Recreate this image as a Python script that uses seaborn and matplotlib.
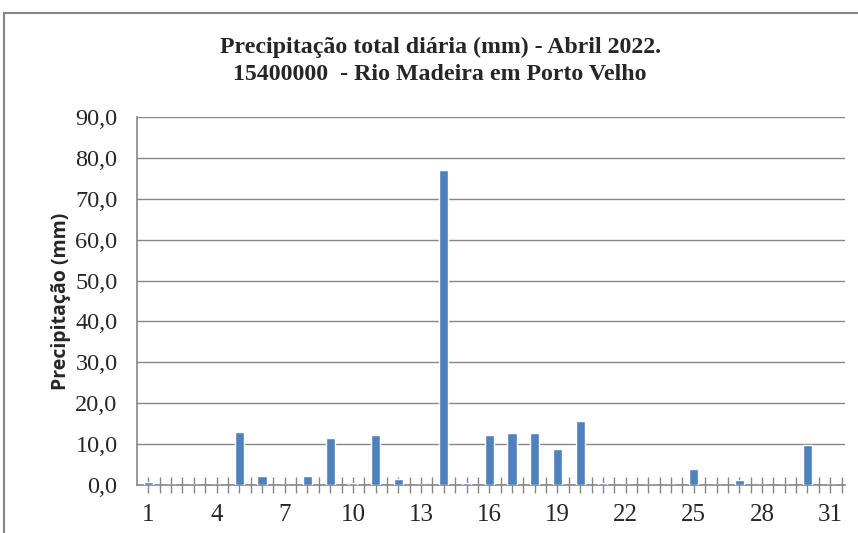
"""
Precipitação total diária - Abril 2022, estação 15400000 (Rio Madeira em Porto Velho).
"""
import numpy as np
import pandas as pd
import matplotlib
matplotlib.use("Agg")
import matplotlib.pyplot as plt
from matplotlib.patches import Rectangle
import seaborn as sns

DAYS = list(range(1, 32))
PRECIP_MM = [0.8, 0.0, 0.0, 0.0, 13.0, 2.3, 0.0, 2.1, 11.6, 0.5,
             12.2, 1.5, 0.0, 77.0, 0.5, 12.3, 12.6, 12.6, 8.9, 15.6,
             0.5, 0.0, 0.0, 0.0, 3.9, 0.0, 1.2, 0.0, 0.0, 9.8,
             0.0]
X_LABEL_DAYS = [1, 4, 7, 10, 13, 16, 19, 22, 25, 28, 31]
Y_TICKS = [0, 10, 20, 30, 40, 50, 60, 70, 80, 90]

TITLE_1 = "Precipitação total diária (mm) - Abril 2022."
TITLE_2 = "15400000  - Rio Madeira em Porto Velho"
Y_LABEL = "Precipitação (mm)"

BAR_COLOR = "#4F81BD"
AXIS_GRAY = "#868686"


def plot():
    sns.set_theme(style="white")
    df = pd.DataFrame({"dia": DAYS, "precip": PRECIP_MM})

    fig = plt.figure(figsize=(8.58, 5.33), dpi=100)
    ax = fig.add_axes([137 / 858, 1 - 485 / 533, (845 - 137) / 858, (485 - 117) / 533])

    sns.barplot(data=df, x="dia", y="precip", color=BAR_COLOR, width=0.4,
                saturation=1, ax=ax, zorder=3)

    ax.set_xlim(-0.5, 30.65)
    ax.set_ylim(0, 90)

    ax.set_yticks(Y_TICKS)
    ax.set_yticklabels([f"{v:.1f}".replace(".", ",") for v in Y_TICKS],
                       family="Liberation Serif", fontsize=17.5)
    ax.yaxis.grid(True, color=AXIS_GRAY, linewidth=1.0, zorder=0)
    ax.set_axisbelow(True)

    # ticks every half day, labels every third day
    pos = np.arange(0, 31, 0.5)
    labels = []
    for p in pos:
        d = p + 1
        labels.append(str(int(d)) if d == int(d) and int(d) in X_LABEL_DAYS else "")
    ax.set_xticks(pos)
    ax.set_xticklabels(labels, family="Liberation Serif", fontsize=18)

    ax.tick_params(axis="x", direction="inout", length=11, width=1.0,
                   color=AXIS_GRAY, pad=8, bottom=True)
    ax.tick_params(axis="y", length=0, pad=14, left=False)

    for side in ["top", "right"]:
        ax.spines[side].set_visible(False)
    for side in ["left", "bottom"]:
        ax.spines[side].set_color(AXIS_GRAY)
        ax.spines[side].set_linewidth(1.2)

    ax.set_xlabel("")
    ax.set_ylabel(Y_LABEL, family="Open Sans", fontweight="bold", fontsize=14,
                  labelpad=3)

    fig.text(0.513, 1 - 47 / 533, TITLE_1, ha="center", va="center",
             family="Liberation Serif", fontweight="bold", fontsize=17.2)
    fig.text(0.513, 1 - 75 / 533, TITLE_2, ha="center", va="center",
             family="Liberation Serif", fontweight="bold", fontsize=17.2)

    # chart area border (cut off on the right and bottom)
    fig.patches.append(Rectangle((4 / 858, -0.1), 1.2, 1 - 13 / 533 + 0.1,
                                 transform=fig.transFigure, fill=False,
                                 edgecolor=AXIS_GRAY, linewidth=1.5))

    fig.savefig("out.png", dpi=100)
    plt.close(fig)


if __name__ == "__main__":
    plot()
